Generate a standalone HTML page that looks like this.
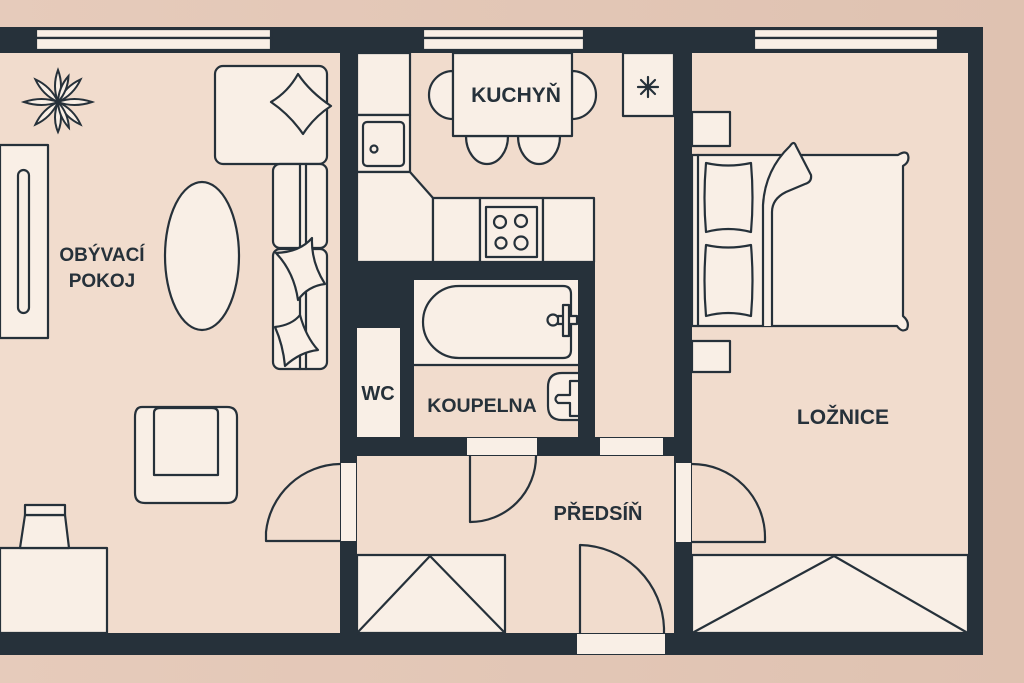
<!DOCTYPE html>
<html><head><meta charset="utf-8"><style>
html,body{margin:0;padding:0;background:#e3c6b6;}
svg{display:block}
text{font-family:"Liberation Sans",sans-serif;font-weight:bold;fill:#26313a}
</style></head><body>
<svg width="1024" height="683" viewBox="0 0 1024 683" xmlns="http://www.w3.org/2000/svg">
<defs>
<linearGradient id="bg" x1="0" y1="0" x2="1" y2="0"><stop offset="0" stop-color="#e6cbbb"/><stop offset="1" stop-color="#dfc2b1"/></linearGradient>
</defs>
<rect width="1024" height="683" fill="url(#bg)"/>
<rect x="0" y="27" width="983" height="628" fill="#26313a"/>
<g fill="#f1dccd">
<rect x="0" y="53" width="340" height="580"/>
<rect x="357" y="53" width="317" height="209"/>
<rect x="595" y="262" width="79" height="175"/>
<rect x="414" y="280" width="164" height="157"/>
<rect x="357" y="456" width="317" height="177"/>
<rect x="692" y="53" width="276" height="580"/>
</g>
<g fill="#f9efe6" stroke="#26313a" stroke-width="2.2" stroke-linejoin="round">
<rect x="36" y="29" width="235" height="9"/><rect x="36" y="38" width="235" height="12"/>
<rect x="423" y="29" width="161" height="9"/><rect x="423" y="38" width="161" height="12"/>
<rect x="754" y="29" width="184" height="9"/><rect x="754" y="38" width="184" height="12"/>
<rect x="357" y="328" width="43" height="109" stroke="none"/>
<rect x="414" y="280" width="164" height="85" stroke="none"/>
<line x1="414" y1="365" x2="578" y2="365"/>
<rect x="341" y="463" width="15" height="78" stroke="none"/>
<rect x="467" y="438" width="70" height="17" stroke="none"/>
<rect x="600" y="438" width="63" height="17" stroke="none"/>
<rect x="676" y="463" width="15" height="79" stroke="none"/>
<rect x="577" y="634" width="88" height="20" stroke="none"/>
</g>
<g fill="#f9efe6" stroke="#26313a" stroke-width="2.2" stroke-linejoin="round" stroke-linecap="round">
<rect x="357" y="53" width="53" height="62"/>
<rect x="357" y="115" width="53" height="57"/>
<rect x="363" y="122" width="41" height="44" rx="4"/>
<circle cx="374" cy="149" r="3.5"/>
<path d="M357,172 H410 L433,198 V262 H357 Z"/>
<rect x="433" y="198" width="47" height="64"/>
<rect x="480" y="198" width="63" height="64"/>
<rect x="486" y="207" width="51" height="50"/>
<circle cx="500" cy="222" r="6"/><circle cx="521" cy="221" r="6"/><circle cx="501" cy="243" r="5.5"/><circle cx="521" cy="243" r="6.5"/>
<rect x="543" y="198" width="51" height="64"/>
<path d="M453,71 A24,24 0 0 0 453,119 Z"/>
<path d="M572,71 A24,24 0 0 1 572,119 Z"/>
<path d="M466,136 A21,28 0 0 0 508,136 Z"/>
<path d="M518,136 A21,28 0 0 0 560,136 Z"/>
<rect x="453" y="53" width="119" height="83"/>
<rect x="623" y="53" width="51" height="63"/>
<path d="M648,77 V97 M638,87 H658 M641,80 L655,94 M655,80 L641,94" fill="none"/>
<path d="M459,286 H563 Q571,286 571,294 V350 Q571,358 563,358 H459 A36,36 0 0 1 459,286 Z"/>
<circle cx="553" cy="320" r="5.5"/>
<rect x="558" y="316" width="19" height="8"/>
<rect x="563" y="305" width="6" height="31"/>
<path d="M578,373 H562 Q548,373 548,387 V406 Q548,420 562,420 H578"/>
<path d="M578,381 H570 V395 H558 Q553,399 558,403 H570 V416 H578" fill="none"/>
<rect x="692" y="112" width="38" height="34"/>
<rect x="692" y="341" width="38" height="31"/>
<path d="M692,155 H898 Q906,150 908,155 Q910,162 903,166 V316 Q910,322 907,329 Q902,333 897,326 H692 Z"/>
<line x1="698" y1="155" x2="698" y2="326"/>
<path d="M706,163 Q728,168 751,163 Q754,198 751,232 Q728,226 706,232 Q703,198 706,163 Z"/>
<path d="M706,245 Q728,250 751,245 Q754,281 751,316 Q728,310 706,316 Q703,281 706,245 Z"/>
<path d="M763,326 V205 Q765,170 790,146 Q794,140 796,146 L811,175 Q812,182 805,184 L786,192 Q772,199 772,212 V326"/>
<rect x="357" y="555" width="148" height="78"/>
<path d="M358,632 L430,556 L504,632" fill="none"/>
<rect x="692" y="555" width="276" height="78"/>
<path d="M694,632 L834,556 L966,632" fill="none"/>
<path d="M340,464 A76,76 0 0 0 266,532 V541 H340" fill="none"/>
<path d="M470,456 V522 A66,66 0 0 0 536,456" fill="none"/>
<path d="M692,464 A73,73 0 0 1 765,537 V542 H692" fill="none"/>
<path d="M580,633 V545 A86,86 0 0 1 664,628 V633" fill="none"/>
<rect x="0" y="145" width="48" height="193"/>
<rect x="18" y="170" width="11" height="143" rx="5.5"/>
<ellipse cx="202" cy="256" rx="37" ry="74"/>
<rect x="215" y="66" width="112" height="98" rx="8"/>
<path d="M298,74 Q310,92 331,106 Q314,117 303,134 Q290,115 271,102 Q288,92 298,74 Z"/>
<rect x="273" y="164" width="54" height="84" rx="7"/>
<line x1="300" y1="164" x2="300" y2="248"/><line x1="306" y1="164" x2="306" y2="248"/>
<rect x="273" y="249" width="54" height="120" rx="7"/>
<line x1="300" y1="249" x2="300" y2="369"/><line x1="306" y1="249" x2="306" y2="369"/>
<path d="M276,253 Q300,252 312,238 Q311,262 325,284 Q308,286 298,300 Q294,272 276,253 Z"/>
<path d="M275,327 Q292,325 300,315 Q306,337 318,350 Q300,352 285,366 Q283,345 275,327 Z"/>
<path d="M142,407 H227 Q237,407 237,417 V493 Q237,503 227,503 H145 Q135,503 135,493 V417 Q135,407 142,407 Z"/>
<path d="M154,475 V413 Q154,408 160,408 H212 Q218,408 218,413 V475 Z"/>
<rect x="0" y="548" width="107" height="85"/>
<path d="M25,515 H65 L69,548 H20 Z"/>
<rect x="25" y="505" width="40" height="10"/>
</g>
<g transform="translate(58,102)" fill="#f9efe6" stroke="#26313a" stroke-width="2">
<path d="M0,0 Q6,-16 0,-32 Q-6,-16 0,0 Z" transform="rotate(0)"/>
<path d="M0,0 Q6,-16 0,-32 Q-6,-16 0,0 Z" transform="rotate(45)"/>
<path d="M0,0 Q6,-16 0,-34 Q-6,-16 0,0 Z" transform="rotate(90)"/>
<path d="M0,0 Q6,-16 0,-32 Q-6,-16 0,0 Z" transform="rotate(135)"/>
<path d="M0,0 Q6,-16 0,-30 Q-6,-16 0,0 Z" transform="rotate(180)"/>
<path d="M0,0 Q6,-16 0,-32 Q-6,-16 0,0 Z" transform="rotate(225)"/>
<path d="M0,0 Q6,-16 0,-34 Q-6,-16 0,0 Z" transform="rotate(270)"/>
<path d="M0,0 Q6,-16 0,-32 Q-6,-16 0,0 Z" transform="rotate(315)"/>
<path d="M0,0 Q5,-14 0,-28 Q-5,-14 0,0 Z" transform="rotate(22)"/>
<path d="M0,0 Q5,-14 0,-28 Q-5,-14 0,0 Z" transform="rotate(157)"/>
</g>
<text x="516" y="102" font-size="21" text-anchor="middle">KUCHYŇ</text>
<text x="102" y="261" font-size="19" text-anchor="middle">OBÝVACÍ</text>
<text x="102" y="287" font-size="19" text-anchor="middle">POKOJ</text>
<text x="378" y="400" font-size="20" text-anchor="middle">WC</text>
<text x="482" y="412" font-size="19.5" text-anchor="middle">KOUPELNA</text>
<text x="598" y="520" font-size="20" text-anchor="middle">PŘEDSÍŇ</text>
<text x="843" y="424" font-size="21" text-anchor="middle">LOŽNICE</text>
</svg>
</body></html>
